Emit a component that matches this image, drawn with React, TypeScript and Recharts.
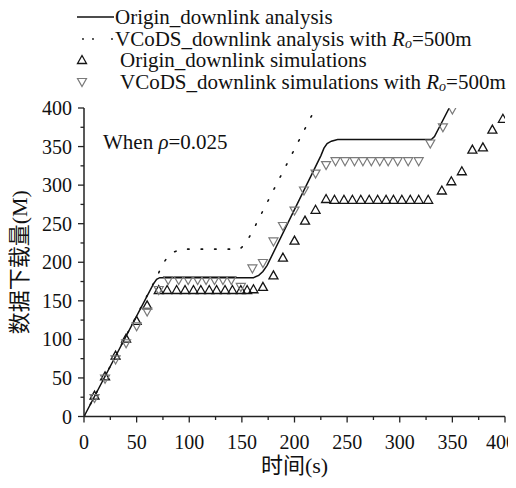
import React from 'react';
import { ComposedChart, Line, Scatter, XAxis, YAxis, Legend } from 'recharts';

// ---- data ----
const axisTicks = [0, 25, 50, 75, 100, 125, 150, 175, 200, 225, 250, 275, 300, 325, 350, 375, 400];

const originAnalysis = [
  { x: 0, y: 0 }, { x: 66, y: 172 }, { x: 69, y: 178 }, { x: 72, y: 180 },
  { x: 161, y: 180 }, { x: 166, y: 183 }, { x: 170, y: 188 }, { x: 174, y: 196 },
  { x: 225, y: 338 }, { x: 228, y: 348 }, { x: 231, y: 354 }, { x: 235, y: 357 },
  { x: 241, y: 359 }, { x: 330, y: 359 }, { x: 333, y: 363 }, { x: 347, y: 400 },
];

const vcodsAnalysis = [
  { x: 0, y: 0 }, { x: 70, y: 183 }, { x: 74, y: 196 }, { x: 79, y: 206 },
  { x: 85, y: 213 }, { x: 92, y: 217 }, { x: 148, y: 217 }, { x: 152, y: 222 },
  { x: 156, y: 230 }, { x: 160, y: 240 }, { x: 220, y: 400 },
];

const originSim = [
  { x: 10, y: 27 }, { x: 20, y: 52 }, { x: 30, y: 79 }, { x: 40, y: 101 }, { x: 50, y: 124 }, { x: 60, y: 144 },
  { x: 71, y: 164 }, { x: 79, y: 164 }, { x: 88, y: 164 }, { x: 96, y: 164 }, { x: 104, y: 164 },
  { x: 111, y: 164 }, { x: 119, y: 164 }, { x: 126, y: 164 }, { x: 134, y: 164 }, { x: 141, y: 164 },
  { x: 149, y: 164 }, { x: 155, y: 164 }, { x: 161, y: 165 },
  { x: 170, y: 168 }, { x: 180, y: 183 }, { x: 189, y: 206 }, { x: 200, y: 228 }, { x: 210, y: 254 },
  { x: 220, y: 268 }, { x: 230, y: 282 },
  { x: 238, y: 281 }, { x: 247, y: 281 }, { x: 255, y: 281 }, { x: 263, y: 281 }, { x: 271, y: 281 },
  { x: 279, y: 281 }, { x: 287, y: 281 }, { x: 294, y: 281 }, { x: 302, y: 281 }, { x: 310, y: 281 },
  { x: 318, y: 281 }, { x: 327, y: 281 },
  { x: 340, y: 293 }, { x: 349, y: 305 }, { x: 359, y: 318 }, { x: 369, y: 346 }, { x: 379, y: 349 },
  { x: 388, y: 372 }, { x: 398, y: 386 },
];

const vcodsSim = [
  { x: 10, y: 24 }, { x: 20, y: 49 }, { x: 30, y: 74 }, { x: 40, y: 95 }, { x: 50, y: 117 }, { x: 60, y: 136 },
  { x: 71, y: 164 },
  { x: 80, y: 177 }, { x: 90, y: 177 }, { x: 99, y: 177 }, { x: 108, y: 177 }, { x: 116, y: 177 },
  { x: 124, y: 177 }, { x: 132, y: 177 }, { x: 140, y: 177 },
  { x: 149, y: 168 }, { x: 160, y: 192 }, { x: 170, y: 199 },
  { x: 180, y: 227 }, { x: 189, y: 247 }, { x: 200, y: 267 }, { x: 209, y: 293 }, { x: 220, y: 315 },
  { x: 230, y: 326 },
  { x: 239, y: 331 }, { x: 248, y: 331 }, { x: 257, y: 331 }, { x: 265, y: 331 }, { x: 273, y: 331 },
  { x: 281, y: 331 }, { x: 289, y: 331 }, { x: 298, y: 331 }, { x: 308, y: 331 }, { x: 318, y: 331 },
  { x: 329, y: 354 }, { x: 341, y: 375 }, { x: 350, y: 398 },
];

// ---- styles ----
const SERIF = '"Liberation Serif", "Times New Roman", serif';
const CJK = '"Liberation Serif", "Noto Sans CJK SC", serif';
const AX = '#222';
const GRAY = '#7a7a7a';

const isMajor = (v: number) => v % 50 === 0;

const BottomTick = (p: any) => {
  const { x, y, payload, index, visibleTicksCount } = p;
  const v = payload.value;
  const last = v === 400;
  return (
    <g>
      <line x1={x} y1={y} x2={x} y2={y + (isMajor(v) ? 6 : 3.5)} stroke={AX} strokeWidth={1.3} />
      {isMajor(v) && (
        <text
          x={x}
          dx={last ? -4 : 0}
          y={y + 25}
          textAnchor="middle"
          dominantBaseline="central"
          fontSize={20}
          style={{ fontFamily: SERIF }}
          fill="#111"
        >
          {v}
        </text>
      )}
    </g>
  );
};

const LeftTick = (p: any) => {
  const { x, y, payload } = p;
  const v = payload.value;
  return (
    <g>
      <line x1={x} y1={y} x2={x - (isMajor(v) ? 6 : 3.5)} y2={y} stroke={AX} strokeWidth={1.3} />
      {isMajor(v) && (
        <text x={x - 12} y={y} textAnchor="end" dominantBaseline="central" fontSize={20} style={{ fontFamily: SERIF }} fill="#111">
          {v}
        </text>
      )}
    </g>
  );
};

const TopTick = (p: any) => {
  const { x, y, payload } = p;
  const v = payload.value;
  return <line x1={x} y1={y} x2={x} y2={y + (isMajor(v) ? 5 : 3)} stroke={AX} strokeWidth={1.3} />;
};

const RightTick = (p: any) => {
  const { x, y, payload } = p;
  const v = payload.value;
  return <line x1={x} y1={y} x2={x - (isMajor(v) ? 6 : 3)} y2={y} stroke={AX} strokeWidth={1.3} />;
};

const UpTri = (p: any) => {
  const { cx, cy } = p;
  if (cx == null || cy == null) return null;
  return (
    <polygon
      points={`${cx},${cy - 4.5} ${cx - 4.5},${cy + 3.5} ${cx + 4.5},${cy + 3.5}`}
      fill="none"
      stroke="#151515"
      strokeWidth={1.3}
    />
  );
};

const DownTri = (p: any) => {
  const { cx, cy } = p;
  if (cx == null || cy == null) return null;
  return (
    <polygon
      points={`${cx - 4.5},${cy - 3.5} ${cx + 4.5},${cy - 3.5} ${cx},${cy + 4.5}`}
      fill="none"
      stroke={GRAY}
      strokeWidth={1.2}
    />
  );
};

const XTitle = (p: any) => {
  const vb = p.viewBox || {};
  return (
    <text x={vb.x + vb.width / 2} y={457} textAnchor="middle" dominantBaseline="central" fontSize={22} style={{ fontFamily: CJK }} fill="#111">
      时间(s)
    </text>
  );
};

const YTitle = (p: any) => {
  const vb = p.viewBox || {};
  const cx = 11;
  const cy = vb.y + vb.height / 2;
  return (
    <text x={cx} y={cy} transform={`rotate(-90, ${cx}, ${cy})`} textAnchor="middle" dominantBaseline="central" fontSize={22} style={{ fontFamily: CJK }} fill="#111">
      数据下载量(M)
    </text>
  );
};

const Ro = () => (
  <>
    <tspan fontStyle="italic">R</tspan>
    <tspan fontStyle="italic" fontSize={14} dy={4}>o</tspan>
    <tspan dy={-4}>=500m</tspan>
  </>
);

const LegendOverlay = () => (
  <svg width={508} height={150} style={{ display: 'block', overflow: 'visible' }}>
    <g style={{ fontFamily: SERIF }} fontSize={21} fill="#111">
      <line x1={69} y1={9} x2={106} y2={9} stroke="#111" strokeWidth={1.5} />
      <text x={107} y={9} dominantBaseline="central">Origin_downlink analysis</text>

      <circle cx={75} cy={31} r={0.9} fill="#111" />
      <circle cx={85} cy={31} r={0.9} fill="#111" />
      <circle cx={104} cy={31} r={0.9} fill="#111" />
      <text x={107} y={31} dominantBaseline="central">
        VCoDS_downlink analysis with <Ro />
      </text>

      <UpTri cx={74} cy={52} />
      <text x={112} y={52} dominantBaseline="central">Origin_downlink simulations</text>

      <DownTri cx={74} cy={74} />
      <text x={112} y={74} dominantBaseline="central">
        VCoDS_downlink simulations with <Ro />
      </text>

      <text x={95} y={134} dominantBaseline="central">
        When <tspan fontStyle="italic">ρ</tspan>=0.025
      </text>
    </g>
  </svg>
);

export default function App() {
  return (
    <div style={{ position: 'relative', width: 508, height: 480 }}>
      <ComposedChart width={508} height={480} margin={{ top: 100, right: 11, left: 0, bottom: 0 }}>
        <XAxis
          xAxisId="b"
          type="number"
          dataKey="x"
          domain={[0, 400]}
          ticks={axisTicks}
          interval={0}
          allowDataOverflow
          height={71.5}
          tickSize={0}
          tickMargin={0}
          tickLine={false}
          axisLine={{ stroke: AX, strokeWidth: 1.5 }}
          tick={<BottomTick />}
          label={<XTitle />}
        />
        <XAxis
          xAxisId="t"
          orientation="top"
          type="number"
          dataKey="x"
          domain={[0, 400]}
          ticks={axisTicks}
          interval={0}
          height={0}
          tickSize={0}
          tickMargin={0}
          tickLine={false}
          axisLine={{ stroke: AX, strokeWidth: 1.5 }}
          tick={<TopTick />}
        />
        <YAxis
          yAxisId="l"
          type="number"
          dataKey="y"
          domain={[0, 400]}
          ticks={axisTicks}
          interval={0}
          allowDataOverflow
          width={76}
          tickSize={0}
          tickMargin={0}
          tickLine={false}
          axisLine={{ stroke: AX, strokeWidth: 1.5 }}
          tick={<LeftTick />}
          label={<YTitle />}
        />
        <YAxis
          yAxisId="r"
          orientation="right"
          type="number"
          dataKey="y"
          domain={[0, 400]}
          ticks={axisTicks}
          interval={0}
          width={0}
          tickSize={0}
          tickMargin={0}
          tickLine={false}
          axisLine={{ stroke: AX, strokeWidth: 1.5 }}
          tick={<RightTick />}
        />
        <Legend
          layout="horizontal"
          verticalAlign="middle"
          align="center"
          content={() => <LegendOverlay />}
          wrapperStyle={{ position: 'absolute', top: 0, left: 0, width: 508, height: 150, pointerEvents: 'none' }}
        />
        <Line
          xAxisId="b"
          yAxisId="l"
          data={vcodsAnalysis}
          dataKey="y"
          type="linear"
          stroke="#111"
          strokeWidth={1.6}
          strokeDasharray="1.5 12"
          strokeLinecap="round"
          dot={false}
          activeDot={false}
          isAnimationActive={false}
          legendType="none"
        />
        <Line
          xAxisId="b"
          yAxisId="l"
          data={originAnalysis}
          dataKey="y"
          type="linear"
          stroke="#111"
          strokeWidth={1.5}
          dot={false}
          activeDot={false}
          isAnimationActive={false}
        />
        <Scatter xAxisId="b" yAxisId="l" data={originSim} dataKey="y" shape={<UpTri />} isAnimationActive={false} />
        <Scatter xAxisId="b" yAxisId="l" data={vcodsSim} dataKey="y" shape={<DownTri />} isAnimationActive={false} />
      </ComposedChart>
    </div>
  );
}
